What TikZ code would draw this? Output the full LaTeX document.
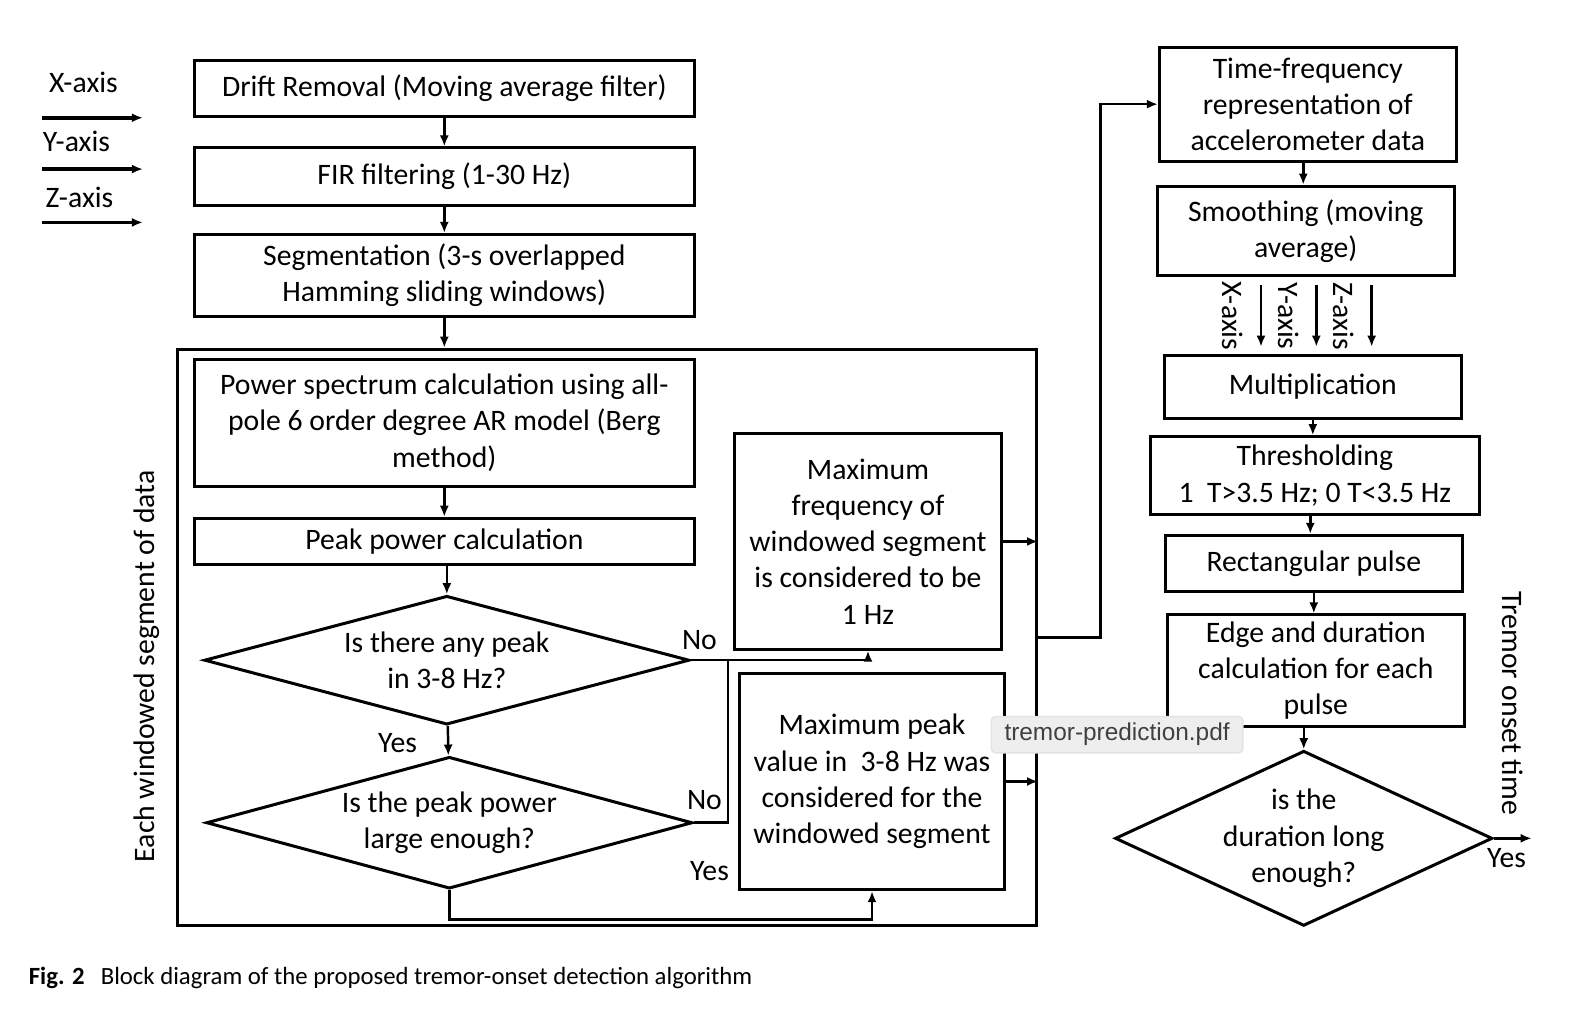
\documentclass[tikz,border=0pt]{standalone}
\usepackage{fontspec}
\setmainfont{Carlito}
\newfontfamily\tipfont{Liberation Sans}
\usetikzlibrary{arrows.meta,shapes.geometric,calc}
\newcommand\blockfont{\fontsize{8.4}{10.24}\selectfont}

\begin{document}
\begin{tikzpicture}[x=0.1mm,y=-0.1mm,
    box/.style={draw,line width=0.85pt,inner sep=0pt,align=center,font=\blockfont},
    decision/.style={draw,diamond,line width=0.85pt,inner sep=0pt,align=center,font=\blockfont},
    lbl/.style={inner sep=0pt,font=\blockfont},
    arr/.style={line width=0.7pt,-{Latex[length=1.1mm,width=0.9mm]}},
    conn/.style={line width=0.7pt}]
  \useasboundingbox (0,0) rectangle (1568,1008);
  % input axes
  \foreach \ax/\lx/\ly/\ay in {X/83/82/117,Y/76/140/168,Z/79/196/221}{
    \node[lbl] (in\ax) at (\lx,\ly) {\ax-axis};
    \coordinate (in\ax s) at (42,\ay);
    \coordinate (in\ax e) at (142,\ay);
    \draw[arr,line width=1pt] (in\ax s) -- (in\ax e);
  }
  % preprocessing
  \node[box,minimum width=49.7mm,minimum height=5.6mm] (drift) at (441.5,88) {Drift Removal (Moving average filter)};
  \node[box,minimum width=49.7mm,minimum height=5.7mm] (fir) at (441.5,175.5) {FIR filtering (1-30 Hz)};
  \node[box,minimum width=49.7mm,minimum height=8.1mm] (seg) at (441.5,273.5) {Segmentation (3-s overlapped\\Hamming sliding windows)};
  % windowed segment block
  \node[box,minimum width=85.4mm,minimum height=57.3mm] (win) at (603,633.5) {};
  \node[lbl,rotate=90] (winlbl) at (146,662) {Each windowed segment of data};
  \node[box,minimum width=49.7mm,minimum height=12.6mm] (ps) at (441.5,420) {Power spectrum calculation using all-\\pole 6 order degree AR model (Berg\\method)};
  \node[box,minimum width=49.7mm,minimum height=4.6mm] (pp) at (441.5,538) {Peak power calculation};
  \node[decision,aspect=3.77,minimum width=48.2mm,minimum height=12.8mm] (anypeak) at (444,656) {Is there any peak\\in 3-8 Hz?};
  \node[decision,aspect=3.69,minimum width=48.3mm,minimum height=13.1mm] (large) at (446.5,817.5) {Is the peak power\\large enough?};
  \node[box,minimum width=26.5mm,minimum height=21.4mm] (maxf) at (862.5,538) {Maximum\\frequency of\\windowed segment\\is considered to be\\1 Hz};
  \node[box,minimum width=26.3mm,minimum height=21.5mm] (maxp) at (866.5,776.5) {Maximum peak\\value in~ 3-8 Hz was\\considered for the\\windowed segment};
  \node[lbl] (yes1) at (395,738) {Yes};
  \node[lbl] (no1) at (695,636) {No};
  \node[lbl] (no2) at (700,795) {No};
  \node[lbl] (yes2) at (705,866) {Yes};
  \draw[arr] (drift) -- (fir);
  \draw[arr] (fir) -- (seg);
  \draw[arr] (seg.south) -- (seg.south |- win.north);
  \draw[arr] (ps) -- (pp);
  \draw[arr] (pp.south -| anypeak.north) -- (anypeak.north);
  \draw[arr] (anypeak) -- (large);
  \draw[arr] (anypeak.east) -| (maxf.south);
  \draw[conn] (large.east) -| ([xshift=3.7mm]anypeak.east);
  \draw[arr] (large.south) -- ++(0,29) -| (maxp.south);
  \draw[arr] (maxf.east) -- (maxf.east -| win.east);
  \draw[arr] (maxp.east) -- (maxp.east -| win.east);
  % time-frequency branch
  \node[box,minimum width=29.5mm,minimum height=11.3mm] (tf) at (1299.5,103.5) {Time-frequency\\representation of\\accelerometer data};
  \node[box,minimum width=29.5mm,minimum height=8.9mm] (smooth) at (1297.5,229.5) {Smoothing (moving\\average)};
  \node[box,minimum width=29.5mm,minimum height=6.3mm] (mult) at (1304.5,384.5) {Multiplication};
  \node[box,minimum width=32.7mm,minimum height=7.7mm] (thr) at (1306.5,472.5) {Thresholding\\1~ T>3.5 Hz; 0 T<3.5 Hz};
  \node[box,minimum width=29.5mm,minimum height=5.6mm] (rect) at (1305.5,560) {Rectangular pulse};
  \node[box,minimum width=29.5mm,minimum height=11.1mm] (edge) at (1307.5,666.5) {Edge and duration\\calculation for each\\pulse};
  \node[decision,aspect=2.16,minimum width=37.5mm,minimum height=17.4mm] (long) at (1295.5,833) {is the\\duration long\\enough?};
  \node[lbl] (yes3) at (1497,853) {Yes};
  \node[lbl,rotate=-90] (onset) at (1503,699) {Tremor onset time};
  \coordinate (onsetend) at (1522,833);
  \draw[arr] (win.east) -- ++(62,0) |- (tf.west);
  \draw[arr] (tf.south -| 1295,0) -- (1295,0 |- smooth.north);
  \foreach \ax/\dx in {X/-51.5,Y/3.5,Z/58.5}{
    \draw[arr] ($(mult.north)+(\dx,-68)$) -- ($(mult.north)+(\dx,-7)$)
      node[lbl,rotate=-90,midway,yshift=-2.8mm] (ax\ax) {\ax-axis};
  }
  \draw[arr] (mult.south) -- (mult.south |- thr.north);
  \draw[arr] (thr.south -| 1302,0) -- (1302,0 |- rect.north);
  \draw[arr] (rect.south) -- (rect.south |- edge.north);
  \draw[arr] (edge.south -| long.north) -- (long.north);
  \draw[arr] (long.east) -- (onsetend);
  % caption
  \node[anchor=west,inner sep=0pt,font=\fontsize{7}{9}\selectfont] (caption) at (28,972) {\textbf{Fig. 2}\hspace{1.6mm}Block diagram of the proposed tremor-onset detection algorithm};
  % viewer tooltip
  \node[fill=gray!13,draw=gray!22,rounded corners=0.4mm,minimum width=25mm,minimum height=3.6mm,inner sep=0pt,
        text=black!75,font=\tipfont\fontsize{6.9}{8}\selectfont] (tip) at (1110,730) {tremor-prediction.pdf};
\end{tikzpicture}
\end{document}
